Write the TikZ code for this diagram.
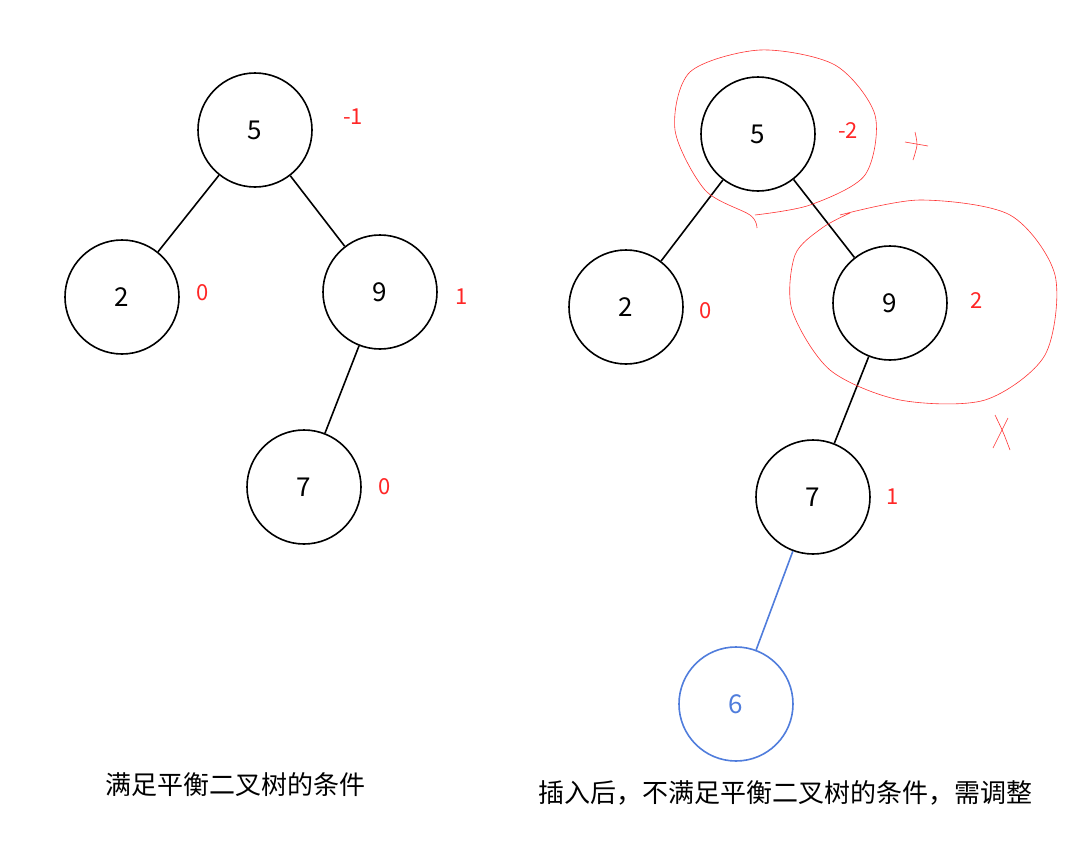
\documentclass[tikz,border=0pt]{standalone}
\usepackage{fontspec}
\setmainfont{Noto Sans CJK SC}
\definecolor{bl6}{RGB}{80,125,220}
\begin{document}
\begin{tikzpicture}[x=1pt,y=-1pt,
  nd/.style={circle,draw,line width=1.6pt,minimum size=114pt,inner sep=0pt,font=\fontsize{26}{30}\selectfont},
  bl/.style={nd,draw=bl6,text=bl6},
  lab/.style={text=red!85!white,font=\fontsize{22}{26}\selectfont},
  ed/.style={line width=1.6pt},
  scr/.style={red!80!white,line width=0.6pt}]
\useasboundingbox (0,0) rectangle (1077,841);
% left tree
\node[nd] (a5) at (255,130) {5};
\node[nd] (a2) at (122,297) {2};
\node[nd] (a9) at (380,292) {9};
\node[nd] (a7) at (304,487) {7};
\draw[ed] (a5) -- (a2);
\draw[ed] (a5) -- (a9);
\draw[ed] (a9) -- (a7);
\node[lab] (la5) at (353,117) {-1};
\node[lab] (la2) at (203,293) {0};
\node[lab] (la9) at (462,297) {1};
\node[lab] (la7) at (385,487) {0};
\node[font=\fontsize{26}{30}\selectfont] (t1) at (235,785) {满足平衡二叉树的条件};
% right tree
\node[nd] (b5) at (758,134) {5};
\node[nd] (b2) at (626,307) {2};
\node[nd] (b9) at (890,303) {9};
\node[nd] (b7) at (813,497) {7};
\node[bl] (b6) at (736,704) {6};
\draw[ed] (b5) -- (b2);
\draw[ed] (b5) -- (b9);
\draw[ed] (b9) -- (b7);
\draw[ed,bl6] (b7) -- (b6);
\node[lab] (lb5) at (848,131) {-2};
\node[lab] (lb2) at (706,311) {0};
\node[lab] (lb9) at (977,301) {2};
\node[lab] (lb7) at (893,497) {1};
\node[font=\fontsize{26}{30}\selectfont] (t2) at (785,793) {插入后，不满足平衡二叉树的条件，需调整};
% scribbles
\draw[scr] plot[smooth] coordinates {(757,228) (750,215) (705,190) (675,130) (690,72) (760,50) (835,65) (875,115) (865,175) (810,205) (755,215)};
\draw[scr] plot[smooth] coordinates {(840,215) (920,200) (1010,215) (1055,275) (1045,355) (985,400) (900,400) (830,370) (792,310) (795,255) (822,228) (850,213)};
\draw[scr] (905,142) -- (928,146);
\draw[scr] plot[smooth] coordinates {(915,132) (917,145) (913,160)};
\draw[scr] plot[smooth] coordinates {(995,415) (1003,432) (1010,450)};
\draw[scr] plot[smooth] coordinates {(1008,418) (1001,432) (993,448)};
\end{tikzpicture}
\end{document}
